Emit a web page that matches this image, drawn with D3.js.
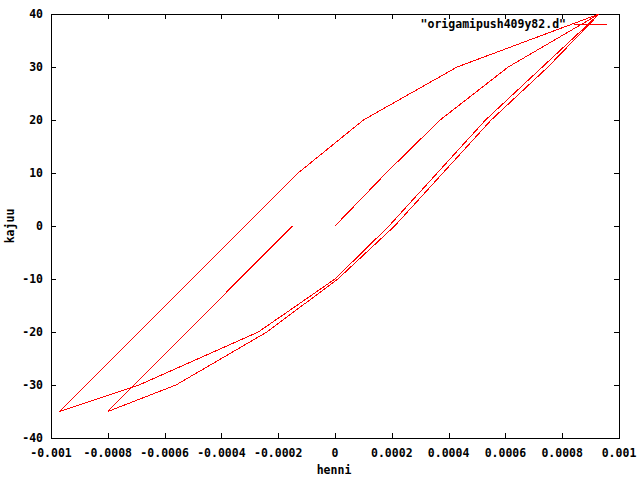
<!DOCTYPE html>
<html><head><meta charset="utf-8">
<script src="https://cdn.jsdelivr.net/npm/d3@7"></script>
<style>
body{margin:0;background:#fff;}
svg{display:block;}
text{font-family:"DejaVu Sans Mono","Liberation Mono",monospace;font-weight:bold;font-size:11.5px;fill:#000;}
</style></head>
<body><svg id="c" width="640" height="480"></svg>
<script>
// data (henni = displacement, kajuu = load)
const henni = [0, 0.00018, 0.00037, 0.00061, 0.00093,
  0.00073, 0.00053, 0.00036, 0.00019, 0.0000, -0.00027, -0.00069, -0.00097,
  -0.00013, 0.00010, 0.00043, 0.00093,
  0.00075, 0.00055, 0.00038, 0.00021, 0.00001, -0.00024, -0.00056, -0.00080,
  -0.00015];
const kajuu = [0, 10, 20, 30, 40,
  30, 20, 10, 0, -10, -20, -30, -35,
  10, 20, 30, 40,
  30, 20, 10, 0, -10, -20, -30, -35,
  0];
const xTicks = [-0.001,-0.0008,-0.0006,-0.0004,-0.0002,0,0.0002,0.0004,0.0006,0.0008,0.001];
const xTickLabels = ["-0.001","-0.0008","-0.0006","-0.0004","-0.0002","0","0.0002","0.0004","0.0006","0.0008","0.001"];
const yTicks = [-40,-30,-20,-10,0,10,20,30,40];
const seriesName = "\"origamipush409y82.d\"";
const xTitle = "henni", yTitle = "kajuu";

const L=51, R=619, T=14, B=438;
const svg = d3.select("#c");
const x = d3.scaleLinear().domain([-0.001,0.001]).range([L,R]);
const y = d3.scaleLinear().domain([-40,40]).range([B,T]);

const tk = 5;
const g = svg.append("g");
// ticks (mirrored, inward)
xTicks.forEach((v,i)=>{
  const px = Math.round(x(v))+0.5;
  if(i>0 && i<xTicks.length-1){
    g.append("line").attr("x1",px).attr("x2",px).attr("y1",B).attr("y2",B-tk).attr("stroke","#000");
    g.append("line").attr("x1",px).attr("x2",px).attr("y1",T).attr("y2",T+tk).attr("stroke","#000");
  }
  g.append("text").attr("x",x(v)).attr("y",B+19).attr("text-anchor","middle").text(xTickLabels[i]);
});
yTicks.forEach((v,i)=>{
  const py = Math.round(y(v))+0.5;
  if(i>0 && i<yTicks.length-1){
    g.append("line").attr("x1",L).attr("x2",L+tk).attr("y1",py).attr("y2",py).attr("stroke","#000");
    g.append("line").attr("x1",R).attr("x2",R-tk).attr("y1",py).attr("y2",py).attr("stroke","#000");
  }
  g.append("text").attr("x",L-8).attr("y",y(v)+4).attr("text-anchor","end").text(String(v));
});
// frame
g.append("rect").attr("x",L+0.5).attr("y",T+0.5).attr("width",R-L).attr("height",B-T)
  .attr("fill","none").attr("stroke","#000").attr("stroke-width",1).attr("shape-rendering","crispEdges");

// series line
const pts = henni.map((h,i)=>[h,kajuu[i]]);
const line = d3.line().x(d=>x(d[0])).y(d=>y(d[1]));
svg.append("path").datum(pts).attr("d",line).attr("fill","none")
  .attr("stroke","#ff0000").attr("stroke-width",1).attr("shape-rendering","crispEdges");

// legend
svg.append("text").attr("x",566).attr("y",28).attr("text-anchor","end").text(seriesName);
svg.append("line").attr("x1",574).attr("x2",607).attr("y1",24.5).attr("y2",24.5).attr("stroke","#ff0000");

// axis titles
svg.append("text").attr("x",(L+R)/2-1).attr("y",474).attr("text-anchor","middle").text(xTitle);
svg.append("text").attr("transform","translate(14,"+((T+B)/2)+") rotate(-90)").attr("text-anchor","middle").text(yTitle);
</script></body></html>
